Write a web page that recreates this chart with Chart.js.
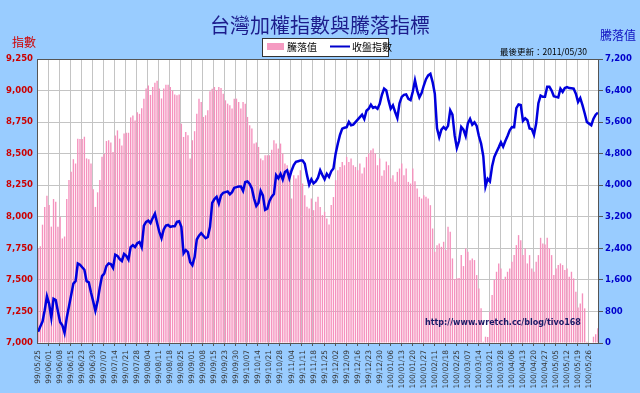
<!DOCTYPE html>
<html>
<head>
<meta charset="utf-8">
<script src="https://cdn.jsdelivr.net/npm/chart.js@4"></script>
<style>
  html, body { margin: 0; padding: 0; background: #99CCFF; }
  canvas { display: block; }
</style>
</head>
<body>
<canvas id="chart" width="640" height="393"></canvas>
<script>
// 每週一個刻度 (每 5 個交易日)
const tickDates = [
  "99/05/25","99/06/01","99/06/08","99/06/15","99/06/23","99/06/30","99/07/07","99/07/14","99/07/21","99/07/28",
  "99/08/04","99/08/11","99/08/18","99/08/25","99/09/01","99/09/08","99/09/15","99/09/23","99/09/30","99/10/07",
  "99/10/14","99/10/21","99/10/28","99/11/04","99/11/11","99/11/18","99/11/25","99/12/02","99/12/09","99/12/16",
  "99/12/23","99/12/30","100/01/06","100/01/13","100/01/20","100/01/27","100/02/11","100/02/18","100/02/25","100/03/07",
  "100/03/14","100/03/21","100/03/28","100/04/06","100/04/13","100/04/20","100/04/27","100/05/05","100/05/12","100/05/19",
  "100/05/26"
];

// 收盤指數 (左軸)
const closeIndex = [
  7090, 7130, 7170, 7260, 7370, 7310, 7200, 7350, 7340, 7250,
  7165, 7140, 7080, 7200, 7290, 7380, 7470, 7490, 7630, 7620,
  7600, 7580, 7490, 7480, 7400, 7330, 7255, 7330, 7440, 7530,
  7550, 7610, 7630, 7625, 7595, 7700, 7690, 7665, 7650, 7705,
  7690, 7660, 7760, 7775, 7760, 7790, 7800, 7760, 7930, 7960,
  7970, 7950, 7990, 8025, 7950, 7880, 7830, 7900, 7930, 7935,
  7920, 7925, 7925, 7960, 7965, 7920, 7710, 7736, 7720, 7640,
  7617, 7680, 7820, 7850, 7870, 7850, 7830, 7840, 7920, 8110,
  8140, 8158, 8105, 8170, 8190, 8195, 8200, 8178, 8195, 8230,
  8235, 8240, 8240, 8205, 8275, 8280, 8260, 8224, 8144, 8086,
  8110, 8205, 8170, 8055, 8065, 8125, 8160, 8180, 8330, 8305,
  8340, 8295, 8355, 8368, 8305, 8365, 8410, 8435, 8440, 8445,
  8445, 8420, 8330, 8255, 8297, 8265, 8280, 8310, 8368, 8330,
  8297, 8340, 8316, 8360, 8382, 8500, 8580, 8650, 8698, 8705,
  8710, 8751, 8725, 8730, 8750, 8770, 8790, 8809, 8775, 8840,
  8856, 8888, 8862, 8870, 8856, 8895, 8967, 9015, 9001, 8922,
  8856, 8883, 8830, 8783, 8900, 8950, 8966, 8970, 8935, 8925,
  8990, 9081, 9000, 8945, 8980, 9040, 9090, 9120, 9133, 9067,
  8975, 8700, 8630, 8690, 8711, 8693, 8720, 8843, 8809, 8646,
  8545, 8600, 8711, 8690, 8640, 8740, 8775, 8730, 8748, 8720,
  8640, 8580, 8480, 8240, 8300, 8280, 8400, 8474, 8514, 8550,
  8590, 8555, 8600, 8640, 8685, 8711, 8710, 8860, 8890, 8885,
  8760, 8780, 8765, 8700, 8695, 8650, 8740, 8900, 8960, 8950,
  8950, 9030, 9030, 9000, 8955, 8950, 8945, 9015, 8990, 9020,
  9028, 9020, 9018, 9015, 8975, 8910, 8940, 8885, 8820, 8750,
  8738, 8725, 8777, 8809, 8825
];

// 騰落值 (右軸)
const adLine = [
  2400, 2450, 3000, 3450, 3730, 3500, 2950, 3650, 3580, 2950,
  3200, 2650, 2700, 3650, 4130, 4340, 4660, 4550, 5180, 5170,
  5170, 5230, 4680, 4660, 4550, 3900, 3450, 3820, 4130, 4720,
  4800, 5120, 5140, 5080, 4840, 5260, 5390, 5180, 5010, 5310,
  5330, 5330, 5720, 5770, 5640, 5850, 5810, 5950, 6190, 6450,
  6530, 6290, 6490, 6600, 6650, 6450, 6200, 6450, 6550, 6550,
  6490, 6400, 6300, 6280, 6300, 5560, 5224, 5350, 5266, 4676,
  5140, 5370, 5815, 6195, 6110, 5731, 5773, 5900, 6380, 6448,
  6490, 6406, 6490, 6465, 6320, 6153, 6068, 6026, 5942, 6195,
  6195, 6110, 5942, 6110, 6068, 5731, 5520, 5435, 5056, 5081,
  4971, 4676, 4634, 4760, 4760, 4760, 4900, 5140, 5056, 4929,
  5056, 4802, 4549, 4507, 4380, 3663, 4254, 4169, 4254, 4380,
  4043, 3747, 3452, 3410, 3663, 3368, 3579, 3705, 3450, 3241,
  3325, 3157, 3005, 3500, 3700, 4127, 4380, 4465, 4591, 4507,
  4718, 4591, 4676, 4507, 4465, 4380, 4549, 4296, 4450, 4718,
  4802, 4887, 4929, 4802, 4507, 4676, 4240, 4380, 4600, 4507,
  4169, 4254, 4085, 4338, 4423, 4549, 4254, 4423, 4085, 4043,
  4423, 4102, 3916, 3705, 3663, 3747, 3705, 3663, 3494, 2903,
  2313, 2481, 2524, 2439, 2566, 2355, 2945, 2819, 2144, 1620,
  1640, 1650, 2228, 1950, 2397, 2313, 2100, 2144, 2102, 1722,
  1384, 878, 34, 160, 150, 793, 1215, 1595, 1806, 2017,
  1891, 1595, 1680, 1806, 1891, 2059, 2228, 2481, 2735, 2608,
  2228, 2397, 2017, 2228, 1891, 1806, 2059, 2228, 2667, 2524,
  2500, 2667, 2397, 2228, 1722, 1891, 1975, 2017, 1975, 1848,
  1891, 1680, 1806, 1637, 1300, 900, 1004, 1258, 878, 34,
  0, 0, 160, 219, 371
];

const labels = closeIndex.map((_, i) => i % 5 === 0 ? (tickDates[i / 5] || "") : "");

const CJK = "'Noto Sans CJK TC', sans-serif";
const LAT = "'DejaVu Sans', Verdana, sans-serif";

// 白底繪圖區、直格線、標題、圖例與其他文字
const decor = {
  id: "decor",
  beforeDraw(chart) {
    const { ctx, chartArea: a } = chart;
    ctx.save();
    ctx.fillStyle = "#99CCFF";
    ctx.fillRect(0, 0, chart.width, chart.height);
    ctx.fillStyle = "#FFFFFF";
    ctx.fillRect(a.left, a.top, a.right - a.left, a.bottom - a.top);
    ctx.restore();
  },
  beforeDatasetsDraw(chart) {
    const { ctx, chartArea: a, scales } = chart;
    const x = scales.x;
    ctx.save();
    ctx.strokeStyle = "#C4C4C4";
    ctx.lineWidth = 1;
    ctx.beginPath();
    for (let i = 5; i < chart.data.labels.length; i += 5) {
      const px = Math.round((x.getPixelForValue(i - 1) + x.getPixelForValue(i)) / 2) + 0.5;
      ctx.moveTo(px, a.top);
      ctx.lineTo(px, a.bottom);
    }
    ctx.stroke();
    ctx.strokeStyle = "#555";
    ctx.beginPath();
    for (let i = 5; i < chart.data.labels.length; i += 5) {
      const px = Math.round((x.getPixelForValue(i - 1) + x.getPixelForValue(i)) / 2) + 0.5;
      ctx.moveTo(px, a.bottom);
      ctx.lineTo(px, a.bottom + 3);
    }
    ctx.stroke();
    ctx.restore();
  },
  afterDraw(chart) {
    const { ctx, chartArea: a } = chart;
    ctx.save();
    ctx.strokeStyle = "#555";
    ctx.lineWidth = 1;
    ctx.strokeRect(a.left + 0.5, a.top + 0.5, a.right - a.left - 1, a.bottom - a.top);

    ctx.textBaseline = "middle";
    ctx.textAlign = "center";
    ctx.fillStyle = "#1C1C8C";
    ctx.font = "20px " + CJK;
    ctx.fillText("台灣加權指數與騰落指標", 320, 25);

    ctx.fillStyle = "#D00000";
    ctx.font = "12px " + CJK;
    ctx.textAlign = "left";
    ctx.fillText("指數", 12, 42);
    ctx.fillStyle = "#1010C0";
    ctx.fillText("騰落值", 600, 35);

    ctx.fillStyle = "#000";
    ctx.font = "8.5px " + CJK;
    ctx.fillText("最後更新：2011/05/30", 500, 52);

    // 圖例
    ctx.fillStyle = "#FFF";
    ctx.fillRect(262, 38, 126, 18);
    ctx.strokeStyle = "#333";
    ctx.strokeRect(262.5, 38.5, 126, 18);
    ctx.fillStyle = "#F59BC2";
    ctx.fillRect(267, 43, 17, 7);
    ctx.strokeStyle = "#0000CC";
    ctx.lineWidth = 2;
    ctx.beginPath();
    ctx.moveTo(330, 46.5);
    ctx.lineTo(350, 46.5);
    ctx.stroke();
    ctx.fillStyle = "#000";
    ctx.font = "10px " + CJK;
    ctx.fillText(chart.data.datasets[0].label, 287, 47);
    ctx.fillText(chart.data.datasets[1].label, 352, 47);

    ctx.fillStyle = "#1A1A66";
    ctx.font = "bold 8px " + LAT;
    ctx.fillText("http://www.wretch.cc/blog/tivo168", 425, 323);
    ctx.restore();
  }
};

new Chart(document.getElementById("chart"), {
  type: "bar",
  data: {
    labels: labels,
    datasets: [
      {
        type: "bar",
        label: "騰落值",
        data: adLine,
        yAxisID: "y1",
        order: 1,
        backgroundColor: "#F591BD",
        borderWidth: 0,
        categoryPercentage: 1,
        barPercentage: 0.62
      },
      {
        type: "line",
        label: "收盤指數",
        data: closeIndex,
        yAxisID: "y",
        order: 0,
        borderColor: "#0000DD",
        borderWidth: 2.5,
        pointRadius: 0,
        tension: 0,
        fill: false
      }
    ]
  },
  options: {
    responsive: false,
    animation: false,
    devicePixelRatio: 1,
    layout: { padding: { top: 59, left: 0, right: 0, bottom: 0 } },
    plugins: {
      legend: { display: false },
      tooltip: { enabled: false }
    },
    scales: {
      x: {
        afterFit: s => { s.height = 50; },
        border: { display: false },
        grid: { display: false, tickLength: 3 },
        ticks: {
          autoSkip: false,
          minRotation: 90,
          maxRotation: 90,
          padding: 4,
          color: "#333",
          font: { family: LAT, size: 7.5 }
        }
      },
      y: {
        position: "left",
        min: 7000,
        max: 9250,
        afterFit: s => { s.width = 37; },
        border: { display: false },
        grid: { color: "#C4C4C4", drawTicks: false },
        ticks: {
          stepSize: 250,
          padding: 4,
          color: "#CC0000",
          font: { family: LAT, size: 8.5, weight: "bold" }
        }
      },
      y1: {
        position: "right",
        min: 0,
        max: 7200,
        afterFit: s => { s.width = 41; },
        border: { display: false },
        grid: { drawOnChartArea: false, tickLength: 4, color: "#555" },
        ticks: {
          stepSize: 800,
          padding: 2,
          color: "#0000CC",
          font: { family: LAT, size: 8.5, weight: "bold" },
          callback: v => v.toLocaleString("en-US")
        }
      }
    }
  },
  plugins: [decor]
});
</script>
</body>
</html>
